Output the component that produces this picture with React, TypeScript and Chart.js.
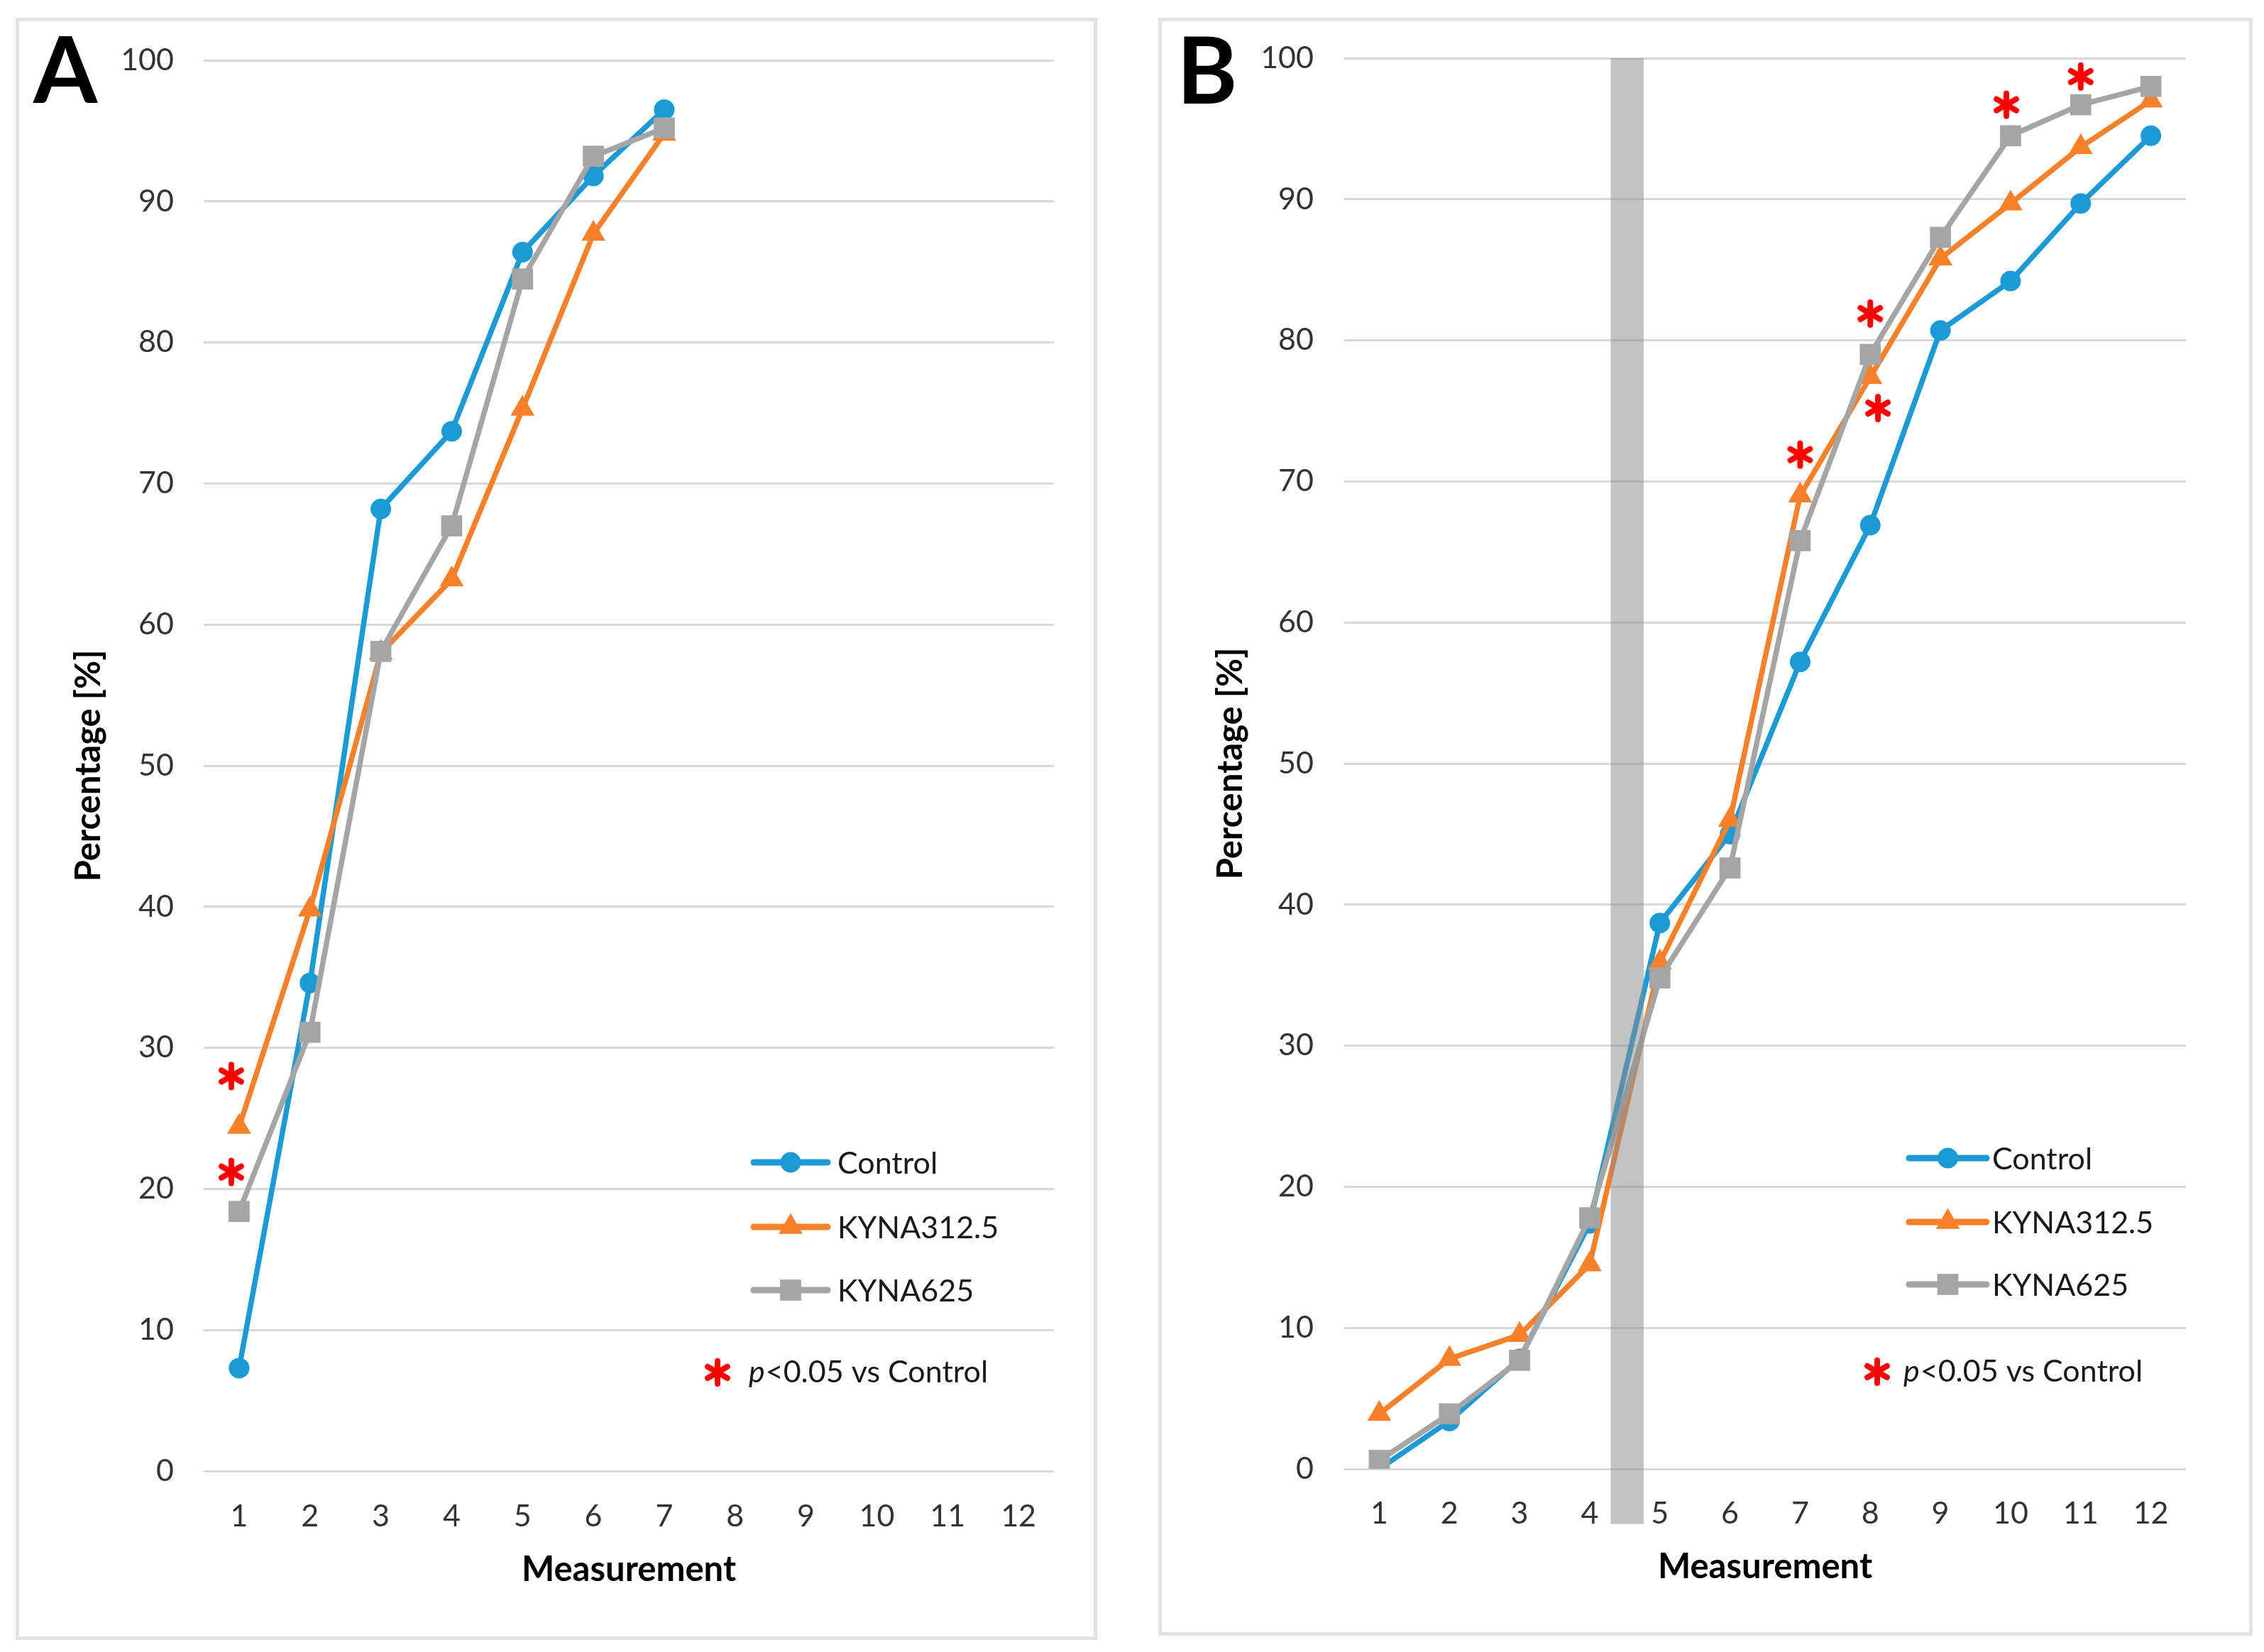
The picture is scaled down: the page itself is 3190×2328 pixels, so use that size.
import React, { useEffect, useRef } from "react";
import { Chart, registerables } from "chart.js";

Chart.register(...registerables);

// ---------------- DATA ----------------
const measurementLabels = ["1", "2", "3", "4", "5", "6", "7", "8", "9", "10", "11", "12"];
const seriesNames = ["Control", "KYNA312.5", "KYNA625"];
const yAxisTitle = "Percentage [%]";
const xAxisTitle = "Measurement";
const sigLegendItalic = "p";
const sigLegendRest = "<0.05 vs Control";
const panelLetters = ["A", "B"];

// Panel A (measurements 1-7)
const aControl = [7.3, 34.6, 68.2, 73.7, 86.4, 91.8, 96.5];
const aKyna312 = [24.4, 39.8, 58.0, 63.2, 75.3, 87.7, 94.8];
const aKyna625 = [18.4, 31.1, 58.1, 67.0, 84.5, 93.2, 95.2];
const aSigX = [0.89, 0.89];
const aSigY = [28.0, 21.2];

// Panel B (measurements 1-12)
const bControl = [0.0, 3.4, 7.8, 17.4, 38.7, 45.0, 57.2, 66.9, 80.7, 84.2, 89.7, 94.5];
const bKyna312 = [3.9, 7.8, 9.5, 14.5, 35.9, 46.0, 69.0, 77.4, 85.8, 89.7, 93.7, 97.0];
const bKyna625 = [0.6, 3.9, 7.7, 17.8, 34.8, 42.6, 65.8, 79.0, 87.3, 94.5, 96.7, 98.0];
const bSigX = [7.0, 8.0, 8.11, 9.94, 11.0];
const bSigY = [71.9, 81.9, 75.2, 96.7, 98.7];
const bIntervalX = [4.3, 4.77];
const bIntervalY = [-3.9, 100];

const yMin = 0;
const yMax = 100;
const yStep = 10;

// ---------------- STYLE ----------------
const COLORS = ["#1C9AD6", "#F7812A", "#A5A5A5"];
const STYLES = ["circle", "triangle", "rect"];
const RADII = [14.5, 19.5, 21];
const FONT = "Lato";

function makeAsterisk(): HTMLCanvasElement {
  const c = document.createElement("canvas");
  c.width = 44;
  c.height = 44;
  const ctx = c.getContext("2d")!;
  ctx.strokeStyle = "#FF0000";
  ctx.lineWidth = 8;
  ctx.lineCap = "round";
  const r = 16;
  [90, 30, 150].forEach((deg) => {
    const a = (deg * Math.PI) / 180;
    ctx.beginPath();
    ctx.moveTo(22 - Math.cos(a) * r, 22 - Math.sin(a) * r);
    ctx.lineTo(22 + Math.cos(a) * r, 22 + Math.sin(a) * r);
    ctx.stroke();
  });
  return c;
}

function drawMarker(ctx: CanvasRenderingContext2D, style: string, x: number, y: number, r: number, color: string) {
  ctx.fillStyle = color;
  ctx.beginPath();
  if (style === "circle") {
    ctx.arc(x, y, r, 0, Math.PI * 2);
  } else if (style === "triangle") {
    let rad = 0;
    ctx.moveTo(x + Math.sin(rad) * r, y - Math.cos(rad) * r);
    rad += (2 * Math.PI) / 3;
    ctx.lineTo(x + Math.sin(rad) * r, y - Math.cos(rad) * r);
    rad += (2 * Math.PI) / 3;
    ctx.lineTo(x + Math.sin(rad) * r, y - Math.cos(rad) * r);
    ctx.closePath();
  } else {
    const s = r / Math.SQRT2;
    ctx.rect(x - s, y - s, 2 * s, 2 * s);
  }
  ctx.fill();
}

const panelDecorPlugin = {
  id: "panelDecor",
  afterDatasetsDraw(chart: any, _args: any, opts: any) {
    if (!opts || !opts.band) return;
    const { ctx } = chart;
    const xs = chart.scales.x;
    const ys = chart.scales.y;
    const x0 = xs.getPixelForValue(opts.band.x[0]);
    const x1 = xs.getPixelForValue(opts.band.x[1]);
    const y0 = ys.getPixelForValue(opts.band.y[0]);
    const y1 = ys.getPixelForValue(opts.band.y[1]);
    ctx.save();
    ctx.fillStyle = "rgba(140,140,140,0.52)";
    ctx.fillRect(x0, y1, x1 - x0, y0 - y1);
    ctx.restore();
  },
  afterDraw(chart: any, _args: any, opts: any) {
    if (!opts) return;
    const { ctx } = chart;
    const L = opts.legend;
    ctx.save();
    // panel letter
    ctx.fillStyle = "#000";
    ctx.font = `bold 130px ${FONT}`;
    ctx.textAlign = "left";
    ctx.textBaseline = "alphabetic";
    ctx.fillText(opts.letter, opts.letterX, opts.letterY);
    // legend rows
    chart.data.datasets.slice(0, 3).forEach((ds: any, i: number) => {
      const y = L.rows[i];
      ctx.strokeStyle = ds.borderColor;
      ctx.lineWidth = 9;
      ctx.lineCap = "round";
      ctx.beginPath();
      ctx.moveTo(L.lineX, y);
      ctx.lineTo(L.lineX + L.lineLen, y);
      ctx.stroke();
      drawMarker(ctx, ds.pointStyle, L.lineX + L.lineLen / 2, y, ds.pointRadius, ds.borderColor);
      ctx.fillStyle = "#1a1a1a";
      ctx.font = `43px ${FONT}`;
      ctx.textBaseline = "middle";
      ctx.textAlign = "left";
      ctx.fillText(ds.label, L.textX, y + 2);
    });
    // significance row
    const star = opts.star as HTMLCanvasElement;
    ctx.drawImage(star, L.sigX - star.width / 2, L.sigRow - star.height / 2);
    ctx.fillStyle = "#1a1a1a";
    ctx.textBaseline = "middle";
    ctx.font = `italic 43px ${FONT}`;
    ctx.fillText(sigLegendItalic, L.sigTextX, L.sigRow);
    const w = ctx.measureText(sigLegendItalic).width;
    ctx.font = `43px ${FONT}`;
    ctx.fillText(sigLegendRest, L.sigTextX + w + 1, L.sigRow);
    ctx.restore();
  },
};

type PanelCfg = {
  letter: string;
  series: number[][];
  sigX: number[];
  sigY: number[];
  band?: { x: number[]; y: number[] };
  box: { left: number; top: number; width: number; height: number };
  pad: { left: number; right: number; top: number; bottom: number };
  yWidth: number;
  yTickPad: number;
  yTitlePad: number;
  xHeight: number;
  xTickPad: number;
  letterX: number;
  letterY: number;
  legend: any;
};

const BORDER = 5;

function Panel({ cfg }: { cfg: PanelCfg }) {
  const ref = useRef<HTMLCanvasElement>(null);
  const cw = cfg.box.width - 2 * BORDER;
  const ch = cfg.box.height - 2 * BORDER;

  useEffect(() => {
    const canvas = ref.current!;
    const star = makeAsterisk();
    const datasets: any[] = cfg.series.map((vals, i) => ({
      type: "line",
      label: seriesNames[i],
      data: vals.map((v, j) => ({ x: j + 1, y: v })),
      borderColor: COLORS[i],
      backgroundColor: COLORS[i],
      borderWidth: 7.5,
      pointStyle: STYLES[i],
      pointRadius: RADII[i],
      pointBackgroundColor: COLORS[i],
      pointBorderColor: COLORS[i],
      pointBorderWidth: 0,
      tension: 0,
      order: 3 - i,
    }));
    datasets.push({
      type: "line",
      label: "sig",
      data: cfg.sigX.map((x, i) => ({ x, y: cfg.sigY[i] })),
      showLine: false,
      pointStyle: star,
      pointRadius: 20,
      order: 0,
    });

    const chart = new Chart(canvas, {
      type: "line",
      data: { datasets },
      plugins: [panelDecorPlugin as any],
      options: {
        animation: false,
        responsive: false,
        devicePixelRatio: 1,
        layout: { padding: cfg.pad },
        events: [],
        plugins: {
          legend: { display: false },
          tooltip: { enabled: false },
          panelDecor: {
            band: cfg.band,
            legend: cfg.legend,
            star,
            letter: cfg.letter,
            letterX: cfg.letterX,
            letterY: cfg.letterY,
          },
        } as any,
        scales: {
          x: {
            type: "linear",
            min: 0.5,
            max: 12.5,
            grid: { display: false, drawTicks: false },
            border: { display: false },
            afterBuildTicks: (s: any) => {
              s.ticks = measurementLabels.map((_, i) => ({ value: i + 1 }));
            },
            afterFit: (s: any) => {
              s.height = cfg.xHeight;
              s.paddingLeft = 0;
              s.paddingRight = 0;
            },
            ticks: {
              autoSkip: false,
              maxRotation: 0,
              padding: cfg.xTickPad,
              color: "#333333",
              font: { family: FONT, size: 43 },
              callback: (v: any) => measurementLabels[Math.round(Number(v)) - 1],
            },
            title: {
              display: true,
              text: xAxisTitle,
              color: "#000",
              font: { family: FONT, size: 49, weight: "bold" },
              padding: { top: 0, bottom: 0 },
            },
          },
          y: {
            type: "linear",
            min: yMin,
            max: yMax,
            grid: { color: "#D9D9D9", lineWidth: 3, drawTicks: false },
            border: { display: false },
            afterFit: (s: any) => {
              s.width = cfg.yWidth;
              s.paddingTop = 0;
              s.paddingBottom = 0;
            },
            ticks: {
              stepSize: yStep,
              padding: cfg.yTickPad,
              color: "#333333",
              font: { family: FONT, size: 43 },
            },
            title: {
              display: true,
              text: yAxisTitle,
              color: "#000",
              font: { family: FONT, size: 49, weight: "bold" },
              padding: { top: cfg.yTitlePad, bottom: 0 },
            },
          },
        },
      } as any,
    });
    return () => chart.destroy();
  }, []);

  return (
    <div
      style={{
        position: "absolute",
        left: cfg.box.left,
        top: cfg.box.top,
        width: cfg.box.width,
        height: cfg.box.height,
        border: `${BORDER}px solid #E2E2E2`,
        boxSizing: "border-box",
        background: "#fff",
      }}
    >
      <canvas ref={ref} width={cw} height={ch} style={{ display: "block", width: cw, height: ch }} />
    </div>
  );
}

const panelA: PanelCfg = {
  letter: panelLetters[0],
  series: [aControl, aKyna312, aKyna625],
  sigX: aSigX,
  sigY: aSigY,
  box: { left: 22, top: 25, width: 1524, height: 2286 },
  pad: { left: 0, right: 56, top: 55, bottom: 64 },
  yWidth: 260,
  yTickPad: 42,
  yTitlePad: 69,
  xHeight: 169,
  xTickPad: 38,
  letterX: 20,
  letterY: 115,
  legend: { lineX: 1035, lineLen: 104, textX: 1153, rows: [1608, 1699, 1788], sigRow: 1904, sigX: 984, sigTextX: 1028 },
};

const panelB: PanelCfg = {
  letter: panelLetters[1],
  series: [bControl, bKyna312, bKyna625],
  sigX: bSigX,
  sigY: bSigY,
  band: { x: bIntervalX, y: bIntervalY },
  box: { left: 1632, top: 25, width: 1542, height: 2280 },
  pad: { left: 0, right: 89, top: 52, bottom: 62 },
  yWidth: 257,
  yTickPad: 43,
  yTitlePad: 68,
  xHeight: 168,
  xTickPad: 37,
  letterX: 21,
  letterY: 116,
  legend: { lineX: 1053, lineLen: 109, textX: 1170, rows: [1602, 1692, 1780], sigRow: 1903, sigX: 1008, sigTextX: 1045 },
};

export default function App() {
  return (
    <div style={{ position: "absolute", left: 0, top: 0, width: 3190, height: 2328, background: "#fff" }}>
      <Panel cfg={panelA} />
      <Panel cfg={panelB} />
    </div>
  );
}
